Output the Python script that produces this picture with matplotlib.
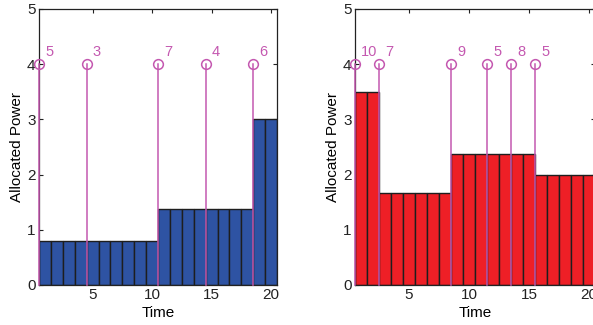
import matplotlib
matplotlib.use("Agg")
import matplotlib.pyplot as plt
import numpy as np

plt.rcParams['font.family'] = ['Liberation Sans', 'DejaVu Sans']

time = np.arange(1, 21)
power_left = [0.8]*10 + [1.38]*8 + [3.0]*2
power_right = [3.5]*2 + [1.67]*6 + [2.38]*7 + [2.0]*5

stems_left_x = [0.5, 4.5, 10.5, 14.5, 18.5]
stems_left_lab = ["5", "3", "7", "4", "6"]
stems_right_x = [0.5, 2.5, 8.5, 11.5, 13.5, 15.5]
stems_right_lab = ["10", "7", "9", "5", "8", "5"]
stem_height = 4

fig = plt.figure(figsize=(5.93, 3.25), dpi=100)
ax1 = fig.add_axes([39/593, 1-285/325, 238/593, 276/325])
ax2 = fig.add_axes([355/593, 1-285/325, 240/593, 276/325])

stem_color = '#C458B0'

def draw(ax, power, color, sx, slab):
    ax.bar(time, power, width=1.0, color=color, edgecolor='#1e1e1e', linewidth=1.0, zorder=2)
    for x, lab in zip(sx, slab):
        ax.plot([x, x], [0, stem_height], color=stem_color, lw=1.1, zorder=3, clip_on=False)
        ax.plot([x], [stem_height], marker='o', ms=7, mfc='none', mec=stem_color, mew=1.1,
                zorder=4, clip_on=False)
        ax.annotate(lab, (x, stem_height), xytext=(4.5, 4), textcoords='offset points',
                    ha='left', va='bottom', color=stem_color, fontsize=10.5)
    ax.set_xlim(0.5, 20.5)
    ax.set_ylim(0, 5)
    ax.set_xticks([5, 10, 15, 20])
    ax.set_yticks([0, 1, 2, 3, 4, 5])
    ax.tick_params(direction='in', top=True, right=True, labelsize=11, length=3, width=0.8,
                   pad=2.5, colors='#222222')
    for s in ax.spines.values():
        s.set_linewidth(0.9)
        s.set_color('#222222')
    ax.set_xlabel('Time', fontsize=11, labelpad=2.5)
    ax.set_ylabel('Allocated Power', fontsize=11, labelpad=2)

draw(ax1, power_left, '#2E53A3', stems_left_x, stems_left_lab)
draw(ax2, power_right, '#EE1F26', stems_right_x, stems_right_lab)

fig.savefig('out.png', dpi=100)
